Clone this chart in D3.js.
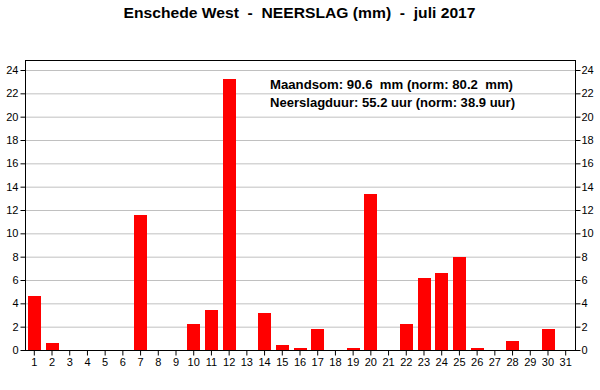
<!DOCTYPE html>
<html><head><meta charset="utf-8">
<script src="https://cdn.jsdelivr.net/npm/d3@7"></script>
<style>
body{margin:0;background:#fff;}
svg{display:block;font-family:"Liberation Sans",Arial,sans-serif;}
</style></head>
<body><svg id="c" width="600" height="390"></svg>
<script>
const days = d3.range(1, 32);
const rain = [4.6,0.6,0,0,0,0,11.6,0,0,2.2,3.4,23.2,0,3.2,0.4,0.2,1.8,0,0.2,13.4,0,2.2,6.2,6.6,8.0,0.2,0,0.8,0,1.8,0];
const yTicks = [0,2,4,6,8,10,12,14,16,18,20,22,24];
const title = "Enschede West  -  NEERSLAG (mm)  -  juli 2017";
const notes = ["Maandsom: 90.6  mm (norm: 80.2  mm)", "Neerslagduur: 55.2 uur (norm: 38.9 uur)"];

const svg = d3.select("#c");
const L = 25, R = 575, T = 60, B = 350;
const y = d3.scaleLinear().domain([0, 24]).range([B, 70]);
const x = d3.scaleBand().domain(days).range([L, R]).paddingInner(0.27).paddingOuter(0.16);

// grid
svg.append("g").selectAll("line").data(yTicks.slice(1)).join("line")
  .attr("x1", L).attr("x2", R).attr("y1", d => y(d) + 0.5).attr("y2", d => y(d) + 0.5)
  .attr("stroke", "#c0c0c0").attr("stroke-width", 1);

// bars
svg.append("g").selectAll("rect").data(rain.map((v, i) => ({d: days[i], v})).filter(o => o.v > 0)).join("rect")
  .attr("x", o => Math.round(x(o.d))).attr("width", Math.round(x.bandwidth()))
  .attr("y", o => Math.round(y(o.v))).attr("height", o => B - Math.round(y(o.v)))
  .attr("fill", "#ff0000");

// top border
svg.append("line").attr("x1", L).attr("x2", R + 1).attr("y1", T + 0.5).attr("y2", T + 0.5).attr("stroke", "#000");

const fmt = d => String(d);
const la = svg.append("g").attr("transform", `translate(${L + 0.5},0)`)
  .call(d3.axisLeft(y).tickValues(yTicks).tickSize(5).tickSizeOuter(0).tickFormat(fmt));
const ra = svg.append("g").attr("transform", `translate(${R + 0.5},0)`)
  .call(d3.axisRight(y).tickValues(yTicks).tickSize(5).tickSizeOuter(0).tickFormat(fmt));
[la, ra].forEach(g => {
  g.select(".domain").attr("d", `M0,${T}V${B}`);
  g.selectAll("text").attr("font-size", 11).attr("fill", "#000").attr("font-family", "Liberation Sans, Arial, sans-serif");
  g.selectAll("line").attr("stroke", "#000");
  g.selectAll(".tick").attr("transform", d => `translate(0,${y(d) + 0.5})`);
});
la.selectAll("text").attr("x", -7);
ra.selectAll("text").attr("x", 6);

const ba = svg.append("g").attr("transform", `translate(0,${B + 0.5})`)
  .call(d3.axisBottom(x).tickSize(5).tickSizeOuter(0));
ba.select(".domain").attr("d", `M${L},0H${R + 1}`);
ba.selectAll("text").attr("font-size", 11).attr("fill", "#000").attr("y", 8).attr("font-family", "Liberation Sans, Arial, sans-serif");
ba.selectAll("line").attr("stroke", "#000");

svg.append("text").attr("x", 123.5).attr("y", 18)
  .attr("font-size", 15.5).attr("font-weight", "bold").style("white-space", "pre")
  .attr("textLength", 352).attr("lengthAdjust", "spacingAndGlyphs").text(title);

const lens = [243, 245];
svg.append("g").selectAll("text").data(notes).join("text")
  .attr("x", 270).attr("y", (d, i) => 89 + i * 18)
  .attr("font-size", 13).attr("font-weight", "bold").style("white-space", "pre")
  .attr("textLength", (d, i) => lens[i]).attr("lengthAdjust", "spacingAndGlyphs").text(d => d);
</script></body></html>
